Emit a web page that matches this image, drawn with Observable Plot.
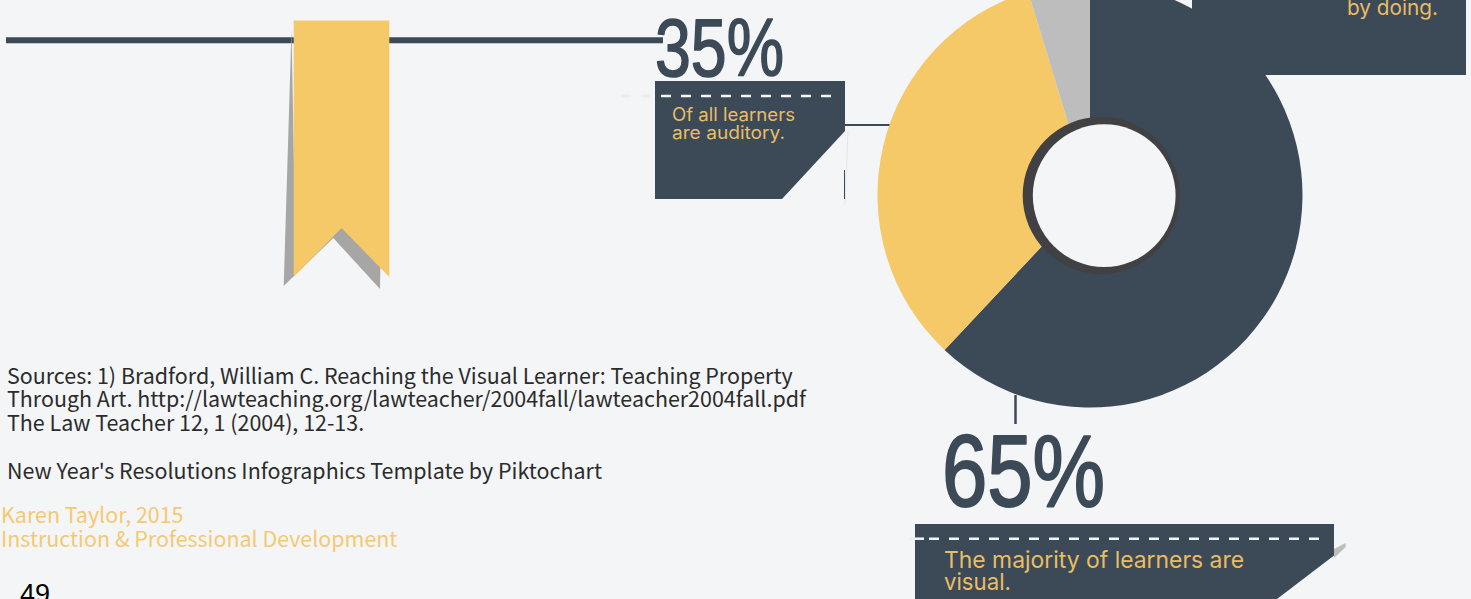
<!DOCTYPE html>
<html><head><meta charset="utf-8">
<script src="https://cdn.jsdelivr.net/npm/d3@7"></script>
<script src="https://cdn.jsdelivr.net/npm/@observablehq/plot@0.6"></script>
<style>html,body{margin:0;padding:0;background:#f4f5f7;overflow:hidden}svg{display:block}</style>
</head><body><div id="chart"></div>
<script>
const sliceNames = ["Visual", "Auditory", "Kinesthetic"];
const sliceValues = [62, 33.3, 4.7];
const sliceColors = ["#3c4a58", "#f5c868", "#bdbdbd"];
const sourceLines = [
  "Sources: 1) Bradford, William C. Reaching the Visual Learner: Teaching Property",
  "Through Art. http://lawteaching.org/lawteacher/2004fall/lawteacher2004fall.pdf",
  "The Law Teacher 12, 1 (2004), 12-13."
];
const templateLine = "New Year's Resolutions Infographics Template by Piktochart";
const creditLines = ["Karen Taylor, 2015", "Instruction & Professional Development"];
const pageNumber = "49";
const pctAuditory = "35%";
const pctVisual = "65%";
const auditoryLines = ["Of all learners", "are auditory."];
const visualLines = ["The majority of learners are", "visual."];
const doingLine = "by doing.";

const DARK = "#3c4a58", YEL = "#f5c868", YTXT = "#e9bd63", BG = "#f4f5f7";
const pts = a => a.map(([x, y]) => ({x, y}));
const poly = (a, fill) => Plot.line(pts(a), {x: "x", y: "y", fill, stroke: "none"});
const seg = (a, stroke, strokeWidth, extra = {}) => Plot.line(pts(a), {x: "x", y: "y", stroke, strokeWidth, strokeLinecap: "butt", ...extra});
const sourceFont = "'Noto Sans CJK SC','Noto Sans',sans-serif";
const T = (text, x, y, size, font, fill, fit, extra = {}) => Plot.text([text], {
  x: () => x, y: () => y, text: d => d, fontSize: size, fontFamily: font, fill,
  textAnchor: "start", lineAnchor: "bottom", ...extra,
  render: fit ? (i, s, v, d, c, next) => {
    const g = next(i, s, v, d, c);
    g.querySelectorAll("text").forEach(t => { t.setAttribute("textLength", fit); t.setAttribute("lengthAdjust", "spacingAndGlyphs"); });
    return g;
  } : undefined
});
const pieMark = (_i, scales) => {
  const g = d3.create("svg:g").attr("transform", `translate(${scales.x(1090.5)},${scales.y(195.5)})`);
  const arcs = d3.pie().sort(null)(sliceValues);
  const arc = d3.arc().innerRadius(0).outerRadius(212.5);
  g.selectAll("path").data(arcs).join("path")
    .attr("d", arc).attr("fill", (d, i) => sliceColors[i]);
  return g.node();
};
const boxFont = "Inter, sans-serif", numFont = "'Liberation Sans',sans-serif";
const chart = Plot.plot({
  width: 1471, height: 599, margin: 0,
  x: {domain: [0, 1471], range: [-0.5, 1470.5], axis: null},
  y: {domain: [0, 599], range: [-0.5, 598.5], axis: null},
  style: {background: BG},
  marks: [
    seg([[6, 40.3], [663, 40.3]], DARK, 6),
    poly([[291.5, 29], [283.7, 286], [333.3, 238], [380, 289], [380.5, 262], [341, 222], [295, 222]], "#a7a6a5"),
    poly([[293.7, 20.5], [389.3, 20.5], [389.3, 277], [341.5, 228], [293.7, 277]], YEL),
    seg([[845, 125], [892, 125]], DARK, 2),
    seg([[1015.5, 395], [1015.5, 424]], DARK, 2.5),
    pieMark,
    Plot.dot([0], {x: () => 1101.3, y: () => 195.4, r: 78.6, fill: "#414042", stroke: "none"}),
    Plot.dot([0], {x: () => 1104.2, y: () => 195.6, r: 71.4, fill: BG, stroke: "none"}),
    poly([[1192, 0], [1466, 0], [1466, 75], [1192, 75]], DARK),
    T(doingLine, 1347, 14.5, 20.5, boxFont, YTXT, 91),
    T(pctAuditory, 655, 75.5, 81, numFont, DARK, 129, {stroke: DARK, strokeWidth: 1.6}),
    poly([[655, 81], [845, 81], [845, 131], [782, 199], [655, 199]], DARK),
    seg([[848, 131], [845, 205]], "#dcdee1", 0.7),
    seg([[844.5, 170], [844.5, 199]], DARK, 1),
    seg([[621, 96], [652, 96]], "#ebecee", 2.5, {strokeDasharray: "10 10"}),
    seg([[661, 96], [832, 96]], BG, 2.5, {strokeDasharray: "10 10"}),
    T(auditoryLines[0], 672, 120.7, 18, boxFont, YTXT, 123),
    T(auditoryLines[1], 672, 138.7, 18, boxFont, YTXT, 113),
    T(pctVisual, 942, 505.5, 102, numFont, DARK, 163, {stroke: DARK, strokeWidth: 2}),
    poly([[1334, 549], [1345.7, 543], [1345.7, 547], [1334, 558]], "#bdbdbd"),
    poly([[915, 524], [1334, 524], [1334, 555.5], [1277, 599], [915, 599]], DARK),
    seg([[909, 538.7], [915, 538.7]], "#ebecee", 2.5),
    seg([[915, 538.7], [924, 538.7]], BG, 2.5),
    seg([[929, 538.7], [1319, 538.7]], BG, 2.5, {strokeDasharray: "10 10"}),
    T(visualLines[0], 944, 567.5, 23, boxFont, YTXT, 300),
    T(visualLines[1], 944, 589.5, 23, boxFont, YTXT, 67),
    ...sourceLines.map((s, i) => T(s, 7, [384, 407, 431][i], 21.45, sourceFont, "#2b2b2b")),
    T(templateLine, 7, 479, 21.45, sourceFont, "#2b2b2b"),
    ...creditLines.map((s, i) => T(s, 1, [523, 547][i], 21.45, sourceFont, "#f6c970")),
    T(pageNumber, 20, 603, 27, "'Liberation Sans',sans-serif", "#000")
  ]
});
document.getElementById("chart").append(chart);
</script></body></html>
